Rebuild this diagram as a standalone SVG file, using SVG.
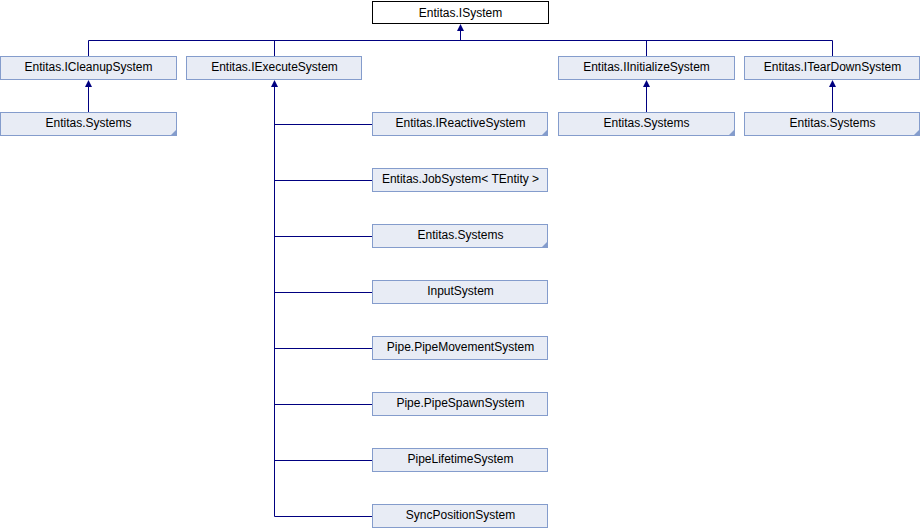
<svg xmlns="http://www.w3.org/2000/svg" width="920" height="528" viewBox="0 0 920 528">
<style>
.box{fill:#E8ECF5;stroke:#849CCC;stroke-width:1}
.cur{fill:#FFFFFF;stroke:#000000;stroke-width:1}
.lbl{font-family:"Liberation Sans",Arial,sans-serif;font-size:12px;fill:#000000;text-anchor:middle}
.ln{fill:none;stroke:#000080;stroke-width:1}
.tri{fill:#849CCC}
.ah{fill:#000080}
</style>
<rect width="920" height="528" fill="#FFFFFF"/>
<g id="connectors">
<path class="ln" d="M88.5,56 V40.5 H832.5 V56 M274.5,56 V40.5 M646.5,56 V40.5 M460.5,40.5 V25"/>
<polygon class="ah" points="460.5,24 457,31 464,31"/>
<path class="ln" d="M88.5,112 V81"/>
<polygon class="ah" points="88.5,80 85,87 92,87"/>
<path class="ln" d="M646.5,112 V81"/>
<polygon class="ah" points="646.5,80 643,87 650,87"/>
<path class="ln" d="M832.5,112 V81"/>
<polygon class="ah" points="832.5,80 829,87 836,87"/>
<path class="ln" d="M274.5,81 V516.5 H372 M274.5,124.5 H372 M274.5,180.5 H372 M274.5,236.5 H372 M274.5,292.5 H372 M274.5,348.5 H372 M274.5,404.5 H372 M274.5,460.5 H372"/>
<polygon class="ah" points="274.5,80 271,87 278,87"/>
</g>
<g id="n_isystem"><rect class="cur" x="372.5" y="1.5" width="176" height="22"/><text class="lbl" x="460.5" y="16.5">Entitas.ISystem</text></g>
<g id="n_icleanup"><rect class="box" x="0.5" y="56.5" width="176" height="23"/><text class="lbl" x="88.5" y="71">Entitas.ICleanupSystem</text></g>
<g id="n_iexecute"><rect class="box" x="186.5" y="56.5" width="175" height="23"/><text class="lbl" x="274.5" y="71">Entitas.IExecuteSystem</text></g>
<g id="n_iinit"><rect class="box" x="558.5" y="56.5" width="176" height="23"/><text class="lbl" x="646.5" y="71">Entitas.IInitializeSystem</text></g>
<g id="n_iteardown"><rect class="box" x="744.5" y="56.5" width="175" height="23"/><text class="lbl" x="832.5" y="71">Entitas.ITearDownSystem</text></g>
<g id="n_systems1"><rect class="box" x="0.5" y="112.5" width="176" height="23"/><polygon class="tri" points="176,130 176,135 171,135"/><text class="lbl" x="88.5" y="127">Entitas.Systems</text></g>
<g id="n_systems3"><rect class="box" x="558.5" y="112.5" width="176" height="23"/><polygon class="tri" points="734,130 734,135 729,135"/><text class="lbl" x="646.5" y="127">Entitas.Systems</text></g>
<g id="n_systems4"><rect class="box" x="744.5" y="112.5" width="175" height="23"/><polygon class="tri" points="919,130 919,135 914,135"/><text class="lbl" x="832.5" y="127">Entitas.Systems</text></g>
<g id="n_ireactive"><rect class="box" x="372.5" y="112.5" width="175" height="23"/><polygon class="tri" points="547,130 547,135 542,135"/><text class="lbl" x="460.5" y="127">Entitas.IReactiveSystem</text></g>
<g id="n_jobsystem"><rect class="box" x="372.5" y="168.5" width="175" height="23"/><text class="lbl" x="460.5" y="183">Entitas.JobSystem&lt; TEntity &gt;</text></g>
<g id="n_systems2"><rect class="box" x="372.5" y="224.5" width="175" height="23"/><polygon class="tri" points="547,242 547,247 542,247"/><text class="lbl" x="460.5" y="239">Entitas.Systems</text></g>
<g id="n_input"><rect class="box" x="372.5" y="280.5" width="175" height="23"/><text class="lbl" x="460.5" y="295">InputSystem</text></g>
<g id="n_pipemove"><rect class="box" x="372.5" y="336.5" width="175" height="23"/><text class="lbl" x="460.5" y="351">Pipe.PipeMovementSystem</text></g>
<g id="n_pipespawn"><rect class="box" x="372.5" y="392.5" width="175" height="23"/><text class="lbl" x="460.5" y="407">Pipe.PipeSpawnSystem</text></g>
<g id="n_pipelife"><rect class="box" x="372.5" y="448.5" width="175" height="23"/><text class="lbl" x="460.5" y="463">PipeLifetimeSystem</text></g>
<g id="n_syncpos"><rect class="box" x="372.5" y="504.5" width="175" height="23"/><text class="lbl" x="460.5" y="519">SyncPositionSystem</text></g>
</svg>
